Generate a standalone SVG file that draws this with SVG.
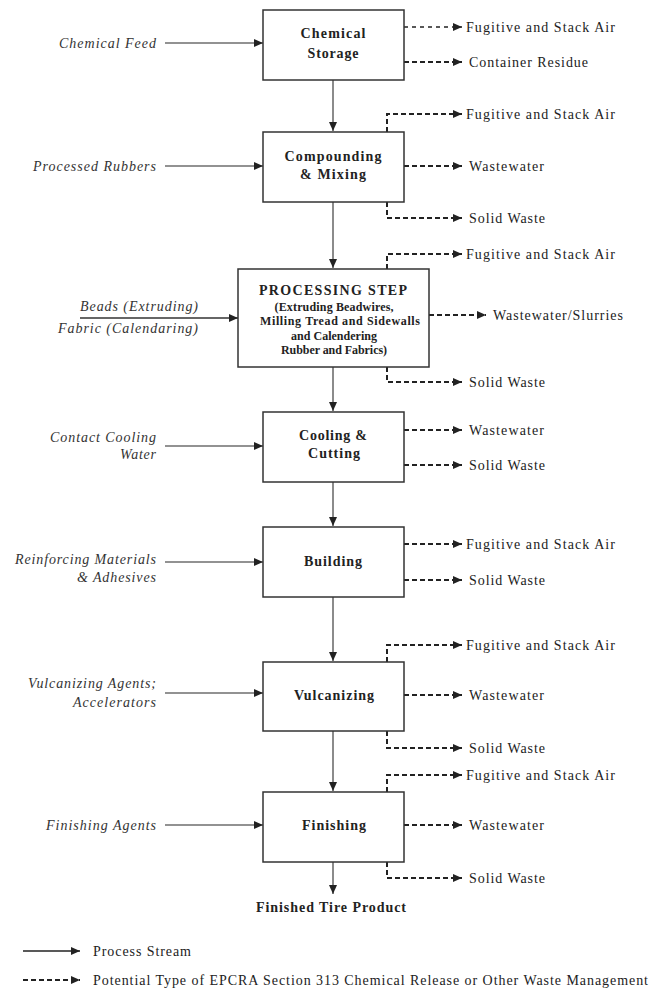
<svg xmlns="http://www.w3.org/2000/svg" width="651" height="989" viewBox="0 0 651 989">
<style>
  text { font-family: "Liberation Serif", "Times New Roman", serif; fill: #222; }
  .lbl { font-size: 14px; }
  .in { font-size: 14px; font-style: italic; fill: #333; }
  .title { font-size: 14px; font-weight: bold; text-anchor: middle; }
  .sub { font-size: 12px; font-weight: bold; text-anchor: middle; }
  .box { fill: #fff; stroke: #333; stroke-width: 1.5; }
  .proc { fill: none; stroke: #6e6e6e; stroke-width: 1.6; marker-end: url(#ah); }
  .rel { fill: none; stroke: #222; stroke-width: 2; stroke-dasharray: 5 3; marker-end: url(#ah); }
  .relthin { fill: none; stroke: #222; stroke-width: 1.3; stroke-dasharray: 4 4; marker-end: url(#ah); }
</style>
<defs>
  <marker id="ah" markerUnits="userSpaceOnUse" markerWidth="10" markerHeight="8" refX="9" refY="4" orient="auto">
    <path d="M0,0 L9,4 L0,8 z" fill="#222"/>
  </marker>
</defs>
<rect width="651" height="989" fill="#fff"/>

<g id="connectors">
  <!-- main process stream -->
  <line class="proc" x1="333" y1="80" x2="333" y2="131"/>
  <line class="proc" x1="333" y1="202" x2="333" y2="268"/>
  <line class="proc" x1="333" y1="367" x2="333" y2="411"/>
  <line class="proc" x1="333" y1="482" x2="333" y2="526"/>
  <line class="proc" x1="333" y1="597" x2="333" y2="661"/>
  <line class="proc" x1="333" y1="731" x2="333" y2="791"/>
  <line class="proc" x1="333" y1="862" x2="333" y2="894"/>
  <!-- inputs -->
  <line class="proc" x1="165" y1="43" x2="263" y2="43"/>
  <line class="proc" x1="165" y1="166" x2="263" y2="166"/>
  <line class="proc" x1="80" y1="318" x2="238" y2="318" style="stroke:#333"/>
  <line class="proc" x1="165" y1="446" x2="263" y2="446"/>
  <line class="proc" x1="165" y1="562" x2="263" y2="562"/>
  <line class="proc" x1="165" y1="693" x2="263" y2="693"/>
  <line class="proc" x1="165" y1="825" x2="263" y2="825"/>
  <!-- releases -->
  <line class="relthin" x1="404" y1="27" x2="462" y2="27"/>
  <line class="rel" x1="404" y1="62" x2="462" y2="62"/>
  <path class="rel" d="M387,132 V114 H462"/>
  <line class="rel" x1="404" y1="166" x2="462" y2="166"/>
  <path class="rel" d="M387,202 V218 H462"/>
  <path class="rel" d="M387,269 V254 H462"/>
  <line class="rel" x1="429" y1="315" x2="486" y2="315"/>
  <path class="rel" d="M387,367 V382 H462"/>
  <line class="rel" x1="404" y1="430" x2="462" y2="430"/>
  <line class="rel" x1="404" y1="465" x2="462" y2="465"/>
  <line class="rel" x1="404" y1="544" x2="462" y2="544"/>
  <line class="rel" x1="404" y1="580" x2="462" y2="580"/>
  <path class="rel" d="M387,662 V645 H462"/>
  <line class="rel" x1="404" y1="695" x2="462" y2="695"/>
  <path class="rel" d="M387,731 V748 H462"/>
  <path class="rel" d="M387,792 V775 H462"/>
  <line class="rel" x1="404" y1="825" x2="462" y2="825"/>
  <path class="rel" d="M387,862 V878 H462"/>
  <!-- legend -->
  <line class="proc" x1="23" y1="951" x2="80" y2="951" style="stroke:#222"/>
  <line class="rel" x1="23" y1="980" x2="80" y2="980"/>
</g>

<g id="chemical-storage">
  <rect class="box" x="263" y="10" width="141" height="70"/>
  <text class="title" x="333" y="38" textLength="65" lengthAdjust="spacing">Chemical</text>
  <text class="title" x="333" y="58" textLength="51" lengthAdjust="spacing">Storage</text>
</g>
<g id="compounding-mixing">
  <rect class="box" x="263" y="132" width="141" height="70"/>
  <text class="title" x="333" y="161" textLength="97" lengthAdjust="spacing">Compounding</text>
  <text class="title" x="333" y="179" textLength="66" lengthAdjust="spacing">&amp; Mixing</text>
</g>
<g id="processing-step">
  <rect class="box" x="238" y="269" width="191" height="98"/>
  <text class="title" x="333" y="295" textLength="148" lengthAdjust="spacing">PROCESSING STEP</text>
  <text class="sub" x="334" y="311" textLength="119" lengthAdjust="spacing">(Extruding Beadwires,</text>
  <text class="sub" x="340" y="325" textLength="160" lengthAdjust="spacing">Milling Tread and Sidewalls</text>
  <text class="sub" x="334" y="340" textLength="86" lengthAdjust="spacing">and Calendering</text>
  <text class="sub" x="334" y="354" textLength="106" lengthAdjust="spacing">Rubber and Fabrics)</text>
</g>
<g id="cooling-cutting">
  <rect class="box" x="263" y="412" width="141" height="70"/>
  <text class="title" x="333" y="440" textLength="68" lengthAdjust="spacing">Cooling &amp;</text>
  <text class="title" x="334" y="458" textLength="52" lengthAdjust="spacing">Cutting</text>
</g>
<g id="building">
  <rect class="box" x="263" y="527" width="141" height="70"/>
  <text class="title" x="333" y="566" textLength="58" lengthAdjust="spacing">Building</text>
</g>
<g id="vulcanizing">
  <rect class="box" x="263" y="662" width="141" height="69"/>
  <text class="title" x="334" y="700" textLength="80" lengthAdjust="spacing">Vulcanizing</text>
</g>
<g id="finishing">
  <rect class="box" x="263" y="792" width="141" height="70"/>
  <text class="title" x="334" y="830" textLength="64" lengthAdjust="spacing">Finishing</text>
</g>
<g id="finished-tire-product">
  <text class="title" x="331" y="912" textLength="150" lengthAdjust="spacing">Finished Tire Product</text>
</g>

<g id="inputs">
  <text class="in" x="59" y="48" textLength="97" lengthAdjust="spacing">Chemical Feed</text>
  <text class="in" x="33" y="171" textLength="123" lengthAdjust="spacing">Processed Rubbers</text>
  <text class="in" x="80" y="311" textLength="118" lengthAdjust="spacing">Beads (Extruding)</text>
  <text class="in" x="58" y="333" textLength="140" lengthAdjust="spacing">Fabric (Calendaring)</text>
  <text class="in" x="50" y="442" textLength="106" lengthAdjust="spacing">Contact Cooling</text>
  <text class="in" x="120" y="459" textLength="36" lengthAdjust="spacing">Water</text>
  <text class="in" x="15" y="564" textLength="141" lengthAdjust="spacing">Reinforcing Materials</text>
  <text class="in" x="77" y="582" textLength="79" lengthAdjust="spacing">&amp; Adhesives</text>
  <text class="in" x="28" y="688" textLength="128" lengthAdjust="spacing">Vulcanizing Agents;</text>
  <text class="in" x="73" y="707" textLength="83" lengthAdjust="spacing">Accelerators</text>
  <text class="in" x="46" y="830" textLength="110" lengthAdjust="spacing">Finishing Agents</text>
</g>

<g id="outputs">
  <text class="lbl" x="466" y="32" textLength="149" lengthAdjust="spacing">Fugitive and Stack Air</text>
  <text class="lbl" x="469" y="67" textLength="119" lengthAdjust="spacing">Container Residue</text>
  <text class="lbl" x="466" y="119" textLength="149" lengthAdjust="spacing">Fugitive and Stack Air</text>
  <text class="lbl" x="469" y="171" textLength="75" lengthAdjust="spacing">Wastewater</text>
  <text class="lbl" x="469" y="223" textLength="76" lengthAdjust="spacing">Solid Waste</text>
  <text class="lbl" x="466" y="259" textLength="149" lengthAdjust="spacing">Fugitive and Stack Air</text>
  <text class="lbl" x="493" y="320" textLength="130" lengthAdjust="spacing">Wastewater/Slurries</text>
  <text class="lbl" x="469" y="387" textLength="76" lengthAdjust="spacing">Solid Waste</text>
  <text class="lbl" x="469" y="435" textLength="75" lengthAdjust="spacing">Wastewater</text>
  <text class="lbl" x="469" y="470" textLength="76" lengthAdjust="spacing">Solid Waste</text>
  <text class="lbl" x="466" y="549" textLength="149" lengthAdjust="spacing">Fugitive and Stack Air</text>
  <text class="lbl" x="469" y="585" textLength="76" lengthAdjust="spacing">Solid Waste</text>
  <text class="lbl" x="466" y="650" textLength="149" lengthAdjust="spacing">Fugitive and Stack Air</text>
  <text class="lbl" x="469" y="700" textLength="75" lengthAdjust="spacing">Wastewater</text>
  <text class="lbl" x="469" y="753" textLength="76" lengthAdjust="spacing">Solid Waste</text>
  <text class="lbl" x="466" y="780" textLength="149" lengthAdjust="spacing">Fugitive and Stack Air</text>
  <text class="lbl" x="469" y="830" textLength="75" lengthAdjust="spacing">Wastewater</text>
  <text class="lbl" x="469" y="883" textLength="76" lengthAdjust="spacing">Solid Waste</text>
</g>

<g id="legend">
  <text class="lbl" x="93" y="956" textLength="98" lengthAdjust="spacing">Process Stream</text>
  <text class="lbl" x="93" y="985" textLength="555" lengthAdjust="spacing">Potential Type of EPCRA Section 313 Chemical Release or Other Waste Management</text>
</g>
</svg>
